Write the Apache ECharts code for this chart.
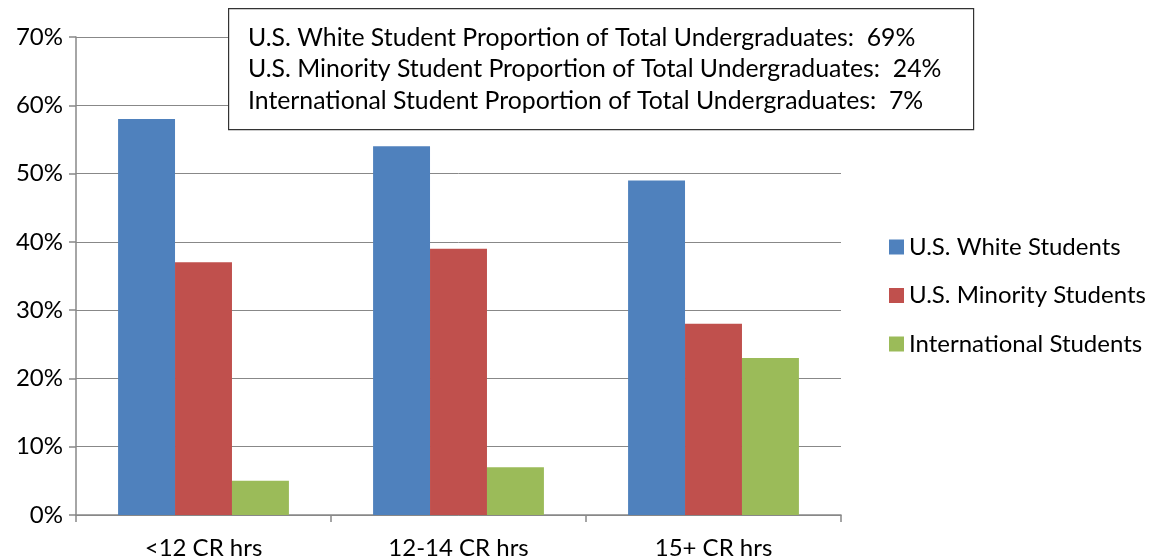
<!DOCTYPE html>
<html><head><meta charset="utf-8">
<script src="https://cdn.jsdelivr.net/npm/echarts@6/dist/echarts.min.js"></script>
<style>html,body{margin:0;padding:0;background:#fff}#c{width:1150px;height:560px}</style>
</head><body><div id="c"></div>
<script>
const categories = ['<12 CR hrs', '12-14 CR hrs', '15+ CR hrs'];
const seriesNames = ['U.S. White Students', 'U.S. Minority Students', 'International Students'];
const whiteValues = [58, 54, 49];
const minorityValues = [37, 39, 28];
const internationalValues = [5, 7, 23];
const yTicks = [0, 10, 20, 30, 40, 50, 60, 70];
const noteLines = [
  'U.S. White Student Proportion of Total Undergraduates:  69%',
  'U.S. Minority Student Proportion of Total Undergraduates:  24%',
  'International Student Proportion of Total Undergraduates:  7%'
];
const colors = ['#4F81BD', '#C0504D', '#9BBB59'];
const FONT = 'Lato';
const chart = echarts.init(document.getElementById('c'));
const values = [whiteValues, minorityValues, internationalValues];
chart.setOption({
  animation: false,
  textStyle: { fontFamily: FONT },
  grid: { left: 76, right: 309, top: 37, bottom: 45 },
  legend: {
    orient: 'vertical', left: 884, top: 230, itemWidth: 15, itemHeight: 15, itemGap: 24.5,
    icon: 'rect', textStyle: { fontSize: 24, lineHeight: 24, color: '#000', fontFamily: FONT },
    data: seriesNames
  },
  xAxis: {
    type: 'category', data: categories,
    axisLine: { lineStyle: { color: '#888', width: 1.5 } },
    axisTick: { show: true, length: 7, lineStyle: { color: '#888', width: 1.5 } },
    axisLabel: { fontSize: 24, color: '#000', margin: 21, fontFamily: FONT }
  },
  yAxis: {
    type: 'value', min: yTicks[0], max: yTicks[yTicks.length - 1], interval: 10,
    axisLine: { show: true, lineStyle: { color: '#888', width: 1.5 } },
    axisTick: { show: true, length: 7, lineStyle: { color: '#888', width: 1.5 } },
    splitLine: { lineStyle: { color: '#888', width: 1 } },
    axisLabel: { fontSize: 24, color: '#000', margin: 13, formatter: v => v + '%', fontFamily: FONT }
  },
  series: seriesNames.map((n, i) => ({
    name: n, type: 'bar', data: values[i], barGap: '0%', barCategoryGap: '33%',
    itemStyle: { color: colors[i] }
  })),
  graphic: [
    { type: 'rect', left: 228, top: 8, z: 100,
      shape: { width: 745, height: 121 },
      style: { fill: '#fff', stroke: '#333', lineWidth: 1.2 } },
    ...noteLines.map((t, i) => ({
      type: 'text', x: 248, y: 38 + i * 31.5, z: 101,
      style: { text: t, font: '24.8px ' + FONT, fill: '#000', verticalAlign: 'middle' }
    }))
  ]
});
</script></body></html>
